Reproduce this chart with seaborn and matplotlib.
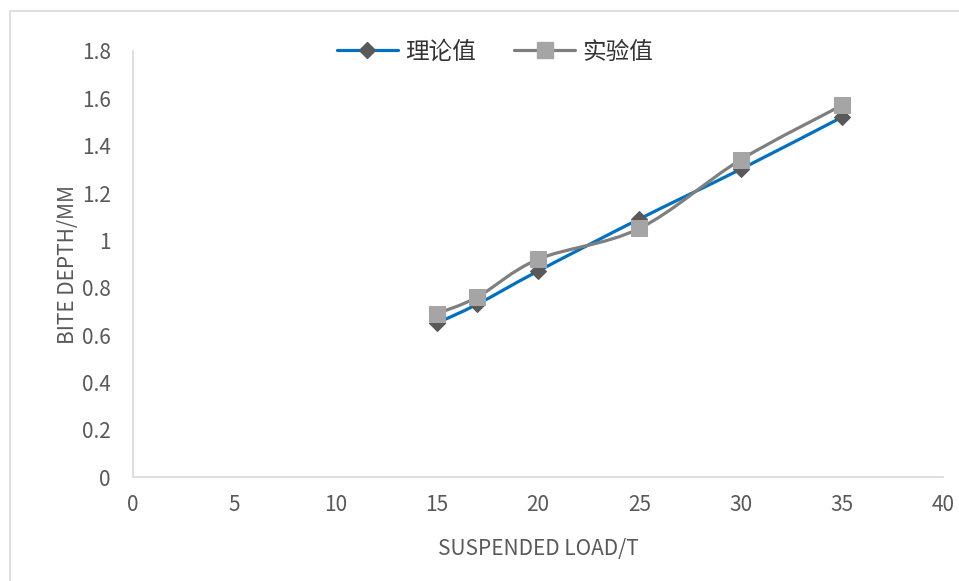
import numpy as np
import pandas as pd
import seaborn as sns
import matplotlib
matplotlib.use("Agg")
import matplotlib.pyplot as plt
from matplotlib.path import Path
from matplotlib.patches import PathPatch, Rectangle
from matplotlib.lines import Line2D

# Suspended load (t) and bite depth (mm)
load = [15, 17, 20, 25, 30, 35]
theory = [0.65, 0.73, 0.87, 1.09, 1.30, 1.52]
experiment = [0.69, 0.76, 0.92, 1.05, 1.34, 1.57]
series_names = ["理论值", "实验值"]
x_ticks = [0, 5, 10, 15, 20, 25, 30, 35, 40]
y_ticks = [0, 0.2, 0.4, 0.6, 0.8, 1.0, 1.2, 1.4, 1.6, 1.8]
y_tick_labels = ["0", "0.2", "0.4", "0.6", "0.8", "1", "1.2", "1.4", "1.6", "1.8"]

sns.set_theme(style="white")
plt.rcParams["font.family"] = ["Liberation Sans Narrow", "Noto Sans CJK SC", "DejaVu Sans"]

BLUE = "#0070C0"
DARK = "#595959"
GREY_LINE = "#7F7F7F"
GREY_MARK = "#A5A5A5"
TEXT = "#595959"
AXIS = "#D9D9D9"

df = pd.DataFrame({
    "load": load * 2,
    "depth": theory + experiment,
    "series": [series_names[0]] * len(load) + [series_names[1]] * len(load),
})

fig = plt.figure(figsize=(9.59, 5.81), dpi=100)
ax = fig.add_axes([133 / 959, 1 - 477 / 581, (943 - 133) / 959, (477 - 51) / 581])

# chart frame (runs off the right and bottom edges)
fig.patches.append(Rectangle((10 / 959, -0.2), 1.2, 1.2 - 11 / 581, transform=fig.transFigure,
                             fill=False, edgecolor=AXIS, lw=1.2, zorder=0))


def smooth_path(xs, ys):
    """Cubic Bezier path through the points (Catmull-Rom style smoothing)."""
    pts = np.column_stack([xs, ys]).astype(float)
    n = len(pts)
    verts = [pts[0]]
    codes = [Path.MOVETO]
    for i in range(n - 1):
        p0 = pts[i - 1] if i > 0 else pts[i]
        p1 = pts[i]
        p2 = pts[i + 1]
        p3 = pts[i + 2] if i + 2 < n else pts[i + 1]
        c1 = p1 + (p2 - p0) / 6.0
        c2 = p2 - (p3 - p1) / 6.0
        verts += [c1, c2, p2]
        codes += [Path.CURVE4] * 3
    return Path(verts, codes)


ax.add_patch(PathPatch(smooth_path(load, theory), fill=False, edgecolor=BLUE, lw=2.3,
                       capstyle="round", joinstyle="round", zorder=2))
ax.add_patch(PathPatch(smooth_path(load, experiment), fill=False, edgecolor=GREY_LINE, lw=2.3,
                       capstyle="round", joinstyle="round", zorder=3))

sns.lineplot(data=df[df.series == series_names[0]], x="load", y="depth", ax=ax,
             linestyle="", marker="D", markersize=8.5, color=DARK,
             markeredgecolor=DARK, legend=False, zorder=4)
sns.lineplot(data=df[df.series == series_names[1]], x="load", y="depth", ax=ax,
             linestyle="", marker="s", markersize=11, color=GREY_MARK,
             markeredgecolor=GREY_MARK, legend=False, zorder=5)

ax.set_xlim(0, 40)
ax.set_ylim(0, 1.8)
ax.set_xticks(x_ticks)
ax.set_xticklabels([str(t) for t in x_ticks])
ax.set_yticks(y_ticks)
ax.set_yticklabels(y_tick_labels)
ax.tick_params(axis="both", length=0, labelsize=15, colors=TEXT)
ax.tick_params(axis="x", pad=12)
ax.tick_params(axis="y", pad=16)

for side in ["top", "right"]:
    ax.spines[side].set_visible(False)
for side in ["left", "bottom"]:
    ax.spines[side].set_color(AXIS)
    ax.spines[side].set_linewidth(1.2)

ax.set_xlabel("SUSPENDED LOAD/T", fontsize=15, color=TEXT, labelpad=16)
ax.set_ylabel("BITE DEPTH/MM", fontsize=15, color=TEXT, labelpad=2)

handles = [
    Line2D([], [], color=BLUE, lw=2.3, marker="D", markersize=8.5,
           markerfacecolor=DARK, markeredgecolor=DARK),
    Line2D([], [], color=GREY_LINE, lw=2.3, marker="s", markersize=11,
           markerfacecolor=GREY_MARK, markeredgecolor=GREY_MARK),
]
leg = ax.legend(handles, series_names, loc="center", bbox_to_anchor=(495 / 959, 1 - 52 / 581),
                bbox_transform=fig.transFigure, ncol=2, frameon=False, handlelength=2.6,
                handletextpad=0.3, columnspacing=1.6,
                prop={"family": ["Noto Sans CJK SC", "DejaVu Sans"], "size": 17})
for t in leg.get_texts():
    t.set_color("#333333")

fig.savefig("out.png", dpi=100)
